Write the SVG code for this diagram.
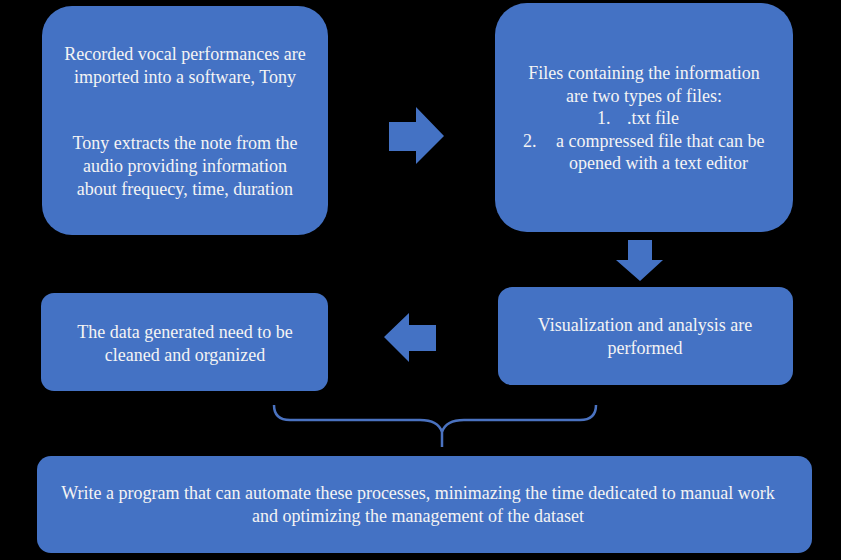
<svg xmlns="http://www.w3.org/2000/svg" width="841" height="560" viewBox="0 0 841 560">
<style>
.box{fill:#4472C4;}
.t{font-family:'Liberation Serif','Times New Roman','DejaVu Serif',serif;font-size:18px;fill:#f4f4f4;text-anchor:middle;}
.ts{font-family:'Liberation Serif','Times New Roman','DejaVu Serif',serif;font-size:18px;fill:#f4f4f4;}
.arr{fill:#4472C4;}
.brace{fill:none;stroke:#4A72C0;stroke-width:2.5;}
</style>
<rect width="841" height="560" fill="#000"/>
<g id="node-import">
<rect class="box" x="42" y="6" width="286" height="229" rx="30"/>
<text class="t" x="185" y="60">Recorded vocal performances are</text>
<text class="t" x="185" y="83">imported into a software, Tony</text>
<text class="t" x="185" y="149">Tony extracts the note from the</text>
<text class="t" x="185" y="172">audio providing information</text>
<text class="t" x="185" y="195">about frequecy, time, duration</text>
</g>
<g id="node-files">
<rect class="box" x="495" y="3" width="298" height="229" rx="32"/>
<text class="t" x="644" y="79">Files containing the information</text>
<text class="t" x="644" y="102">are two types of  files:</text>
<text class="ts" x="597" y="124">1.</text>
<text class="ts" x="627" y="124">.txt file</text>
<text class="ts" x="523" y="147">2.</text>
<text class="ts" x="556" y="147">a compressed file that can be</text>
<text class="ts" x="569" y="169">opened with a text editor</text>
</g>
<g id="node-clean">
<rect class="box" x="41" y="293" width="287" height="98" rx="13"/>
<text class="t" x="185" y="338">The data generated need to be</text>
<text class="t" x="185" y="361">cleaned and organized</text>
</g>
<g id="node-visual">
<rect class="box" x="498" y="287" width="295" height="98" rx="14"/>
<text class="t" x="645" y="331">Visualization and analysis are</text>
<text class="t" x="645" y="354">performed</text>
</g>
<g id="node-program">
<rect class="box" x="37" y="456" width="775" height="97" rx="14"/>
<text class="t" x="418" y="499">Write a program that can automate these processes, minimazing the time dedicated to manual work</text>
<text class="t" x="418" y="522">and optimizing the management of  the dataset</text>
</g>
<g id="connectors">
<polygon class="arr" points="389,122 416,122 416,107 444,136 416,164 416,151 389,151"/>
<polygon class="arr" points="628,240 652,240 652,260 663,260 640,281 616,260 628,260"/>
<polygon class="arr" points="436,325 409,325 409,313 384,337 409,362 409,351 436,351"/>
<path class="brace" d="M274,405 Q274,420 290,420 L420,420 Q438,420 442,432 Q446,420 464,420 L580,420 Q596,420 596,405 M442,432 L442,447"/>
</g>
</svg>
